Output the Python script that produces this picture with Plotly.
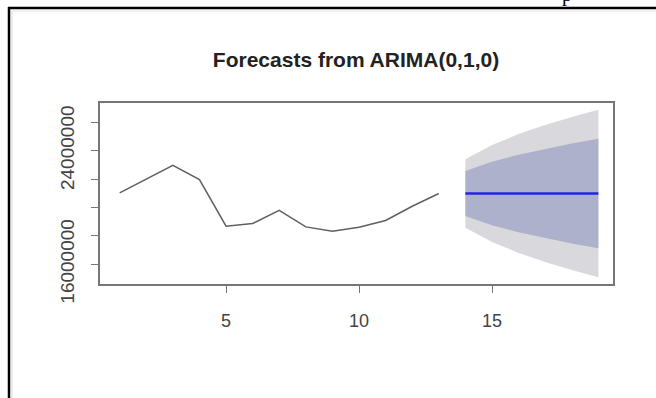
import plotly.graph_objects as go

# Historical series (time index 1..13)
hist_x = list(range(1, 14))
hist_y = [21.02e6, 22.00e6, 22.97e6, 21.96e6, 18.68e6, 18.87e6, 19.80e6,
          18.63e6, 18.32e6, 18.61e6, 19.08e6, 20.08e6, 20.98e6]

# Forecast horizon (14..19)
fc_x = [14, 15, 16, 17, 18, 19]
fc_mean = [20.98e6, 20.98e6, 20.98e6, 20.98e6, 20.98e6, 20.98e6]
lo80 = [19.40e6, 18.75e6, 18.25e6, 17.83e6, 17.46e6, 17.12e6]
hi80 = [22.56e6, 23.21e6, 23.71e6, 24.13e6, 24.50e6, 24.84e6]
lo95 = [18.57e6, 17.57e6, 16.80e6, 16.16e6, 15.59e6, 15.08e6]
hi95 = [23.39e6, 24.39e6, 25.16e6, 25.80e6, 26.37e6, 26.88e6]

x_ticks = [5, 10, 15]
y_ticks = [16e6, 18e6, 20e6, 22e6, 24e6, 26e6]
y_ticktext = ["16000000", "", "", "", "24000000", ""]

W, H = 656, 398
ML, MT = 100, 103
MR, MB = W - 613, H - 284
PW, PH = W - ML - MR, H - MT - MB

def px(xs):
    return (xs - ML) / PW

def py(ys):
    return 1 - (ys - MT) / PH

fig = go.Figure()

fig.add_trace(go.Scatter(
    x=fc_x + fc_x[::-1], y=hi95 + lo95[::-1], fill="toself",
    fillcolor="#D8D8DD", line=dict(width=0), mode="lines",
    hoverinfo="skip", showlegend=False))
fig.add_trace(go.Scatter(
    x=fc_x + fc_x[::-1], y=hi80 + lo80[::-1], fill="toself",
    fillcolor="#ADB1CB", line=dict(width=0), mode="lines",
    hoverinfo="skip", showlegend=False))
fig.add_trace(go.Scatter(
    x=fc_x, y=fc_mean, mode="lines",
    line=dict(color="#2323E0", width=2.5), showlegend=False))
fig.add_trace(go.Scatter(
    x=hist_x, y=hist_y, mode="lines",
    line=dict(color="#606060", width=1.5), showlegend=False))

axis_common = dict(showline=True, mirror=True, linecolor="#767676", linewidth=1.5,
                   showgrid=False, zeroline=False, ticks="outside", ticklen=7,
                   tickcolor="#767676", tickwidth=1.3)

fig.update_xaxes(range=[0.26, 19.55], tickvals=x_ticks, ticklabelstandoff=13,
                 tickfont=dict(family="Liberation Sans", size=18, color="#444"),
                 **axis_common)
fig.update_yaxes(range=[14.61e6, 27.35e6], tickvals=y_ticks, ticktext=y_ticktext,
                 tickangle=-90, ticklabelstandoff=10,
                 tickfont=dict(family="Liberation Sans", size=19, color="#444"),
                 **axis_common)

# document frame around the screenshot
shapes = [
    dict(type="line", xref="paper", yref="paper", x0=px(8), x1=px(670), y0=py(8), y1=py(8),
         line=dict(color="black", width=2.5)),
    dict(type="line", xref="paper", yref="paper", x0=px(9), x1=px(9), y0=py(7), y1=py(410),
         line=dict(color="black", width=2.5)),
    dict(type="line", xref="paper", yref="paper", x0=px(12), x1=px(12), y0=py(11), y1=py(410),
         line=dict(color="#e6e6e6", width=1.5)),
    dict(type="line", xref="paper", yref="paper", x0=px(12), x1=px(670), y0=py(11), y1=py(11),
         line=dict(color="#ececec", width=1.5)),
]

fig.update_layout(
    width=W, height=H,
    margin=dict(l=ML, r=MR, t=MT, b=MB, pad=0),
    paper_bgcolor="white", plot_bgcolor="white",
    shapes=shapes,
    title=dict(text="<b>Forecasts from ARIMA(0,1,0)</b>", xref="container", yref="container",
               x=356 / W, xanchor="center", y=1 - 60 / H, yanchor="middle",
               font=dict(family="Liberation Sans", size=21, color="#222")),
    annotations=[dict(text="p", xref="paper", yref="paper", x=px(567), y=py(8),
                      xanchor="center", yanchor="bottom", showarrow=False,
                      font=dict(family="Liberation Serif", size=20, color="black"))],
)

fig.write_html("out.html", config={"displayModeBar": False},
               post_script="document.body.style.margin='0';document.body.style.overflow='hidden';")
